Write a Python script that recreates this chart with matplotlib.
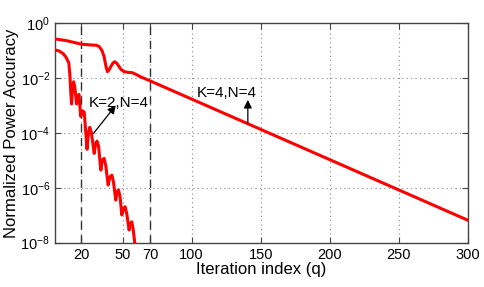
import numpy as np
import matplotlib
matplotlib.use("Agg")
import matplotlib.pyplot as plt
from matplotlib.ticker import FixedLocator, LogFormatterMathtext

# ---- data (log10 of accuracy) ----
q_k4 = [1, 9, 20, 27, 31, 33, 35, 36.6, 38, 39, 40, 41.4, 43, 44.3, 45.8, 47.4,
        49, 51, 54, 57, 60, 63, 66.7, 70, 300]
log_k4 = [-0.58, -0.64, -0.77, -0.80, -0.81, -0.86, -1.0, -1.23, -1.6, -1.77, -1.72,
          -1.59, -1.46, -1.41, -1.47, -1.59, -1.7, -1.77, -1.8, -1.81, -1.88, -1.96,
          -2.04, -2.11, -7.18]

q_k2 = [1, 4, 7, 9, 11, 11.8, 12.4, 13.0, 13.6, 14.5, 15.4, 16.6, 17.4, 18.4, 19.6,
        21.0, 22.2, 24.2, 25.2, 26.2, 27.4, 29.4, 30.4, 31.4, 32.6, 34.2, 35.2, 36.6,
        37.8, 39.5, 40.8, 42.2, 43.4, 45.0, 46.0, 47.0, 48.2, 49.4, 50.6, 51.8, 53.0,
        54.7, 55.6, 56.6, 57.6, 59.5]
log_k2 = [-0.98, -1.02, -1.12, -1.25, -1.45, -1.9, -2.5, -2.95, -2.4, -2.14, -2.35,
          -2.95, -2.7, -2.6, -3.4, -3.2, -3.25, -4.6, -4.0, -3.8, -4.0, -4.75, -4.4,
          -4.3, -4.5, -5.36, -5.0, -4.93, -5.2, -5.9, -5.6, -5.54, -5.8, -6.45, -6.15,
          -6.08, -6.35, -6.99, -6.75, -6.69, -6.95, -7.54, -7.3, -7.24, -7.5, -8.3]

x_ticks = [20, 50, 70, 100, 150, 200, 250, 300]
y_ticks = [1e0, 1e-2, 1e-4, 1e-6, 1e-8]
marker_q = [20, 70]

plt.rcParams["font.family"] = ["Liberation Sans", "DejaVu Sans"]
plt.rcParams["mathtext.fontset"] = "custom"
plt.rcParams["mathtext.rm"] = "Liberation Sans"

fig = plt.figure(figsize=(4.85, 2.87), dpi=100)
ax = fig.add_axes([0.1134, 0.1544, 0.851, 0.7655])

ax.semilogy(q_k4, 10.0 ** np.array(log_k4), color="red", lw=2.2, zorder=3)
ax.semilogy(q_k2, 10.0 ** np.array(log_k2), color="red", lw=2.2, zorder=3)

for xq in marker_q:
    ax.axvline(xq, color="#333333", lw=1.0, ls=(0, (6, 4)), zorder=2)

ax.set_xlim(1, 300)
ax.set_ylim(1e-8, 1e0)
ax.xaxis.set_major_locator(FixedLocator(x_ticks))
ax.yaxis.set_major_locator(FixedLocator(y_ticks))
ax.yaxis.set_major_formatter(LogFormatterMathtext())
ax.yaxis.set_minor_locator(FixedLocator([]))
ax.tick_params(which="both", direction="in", top=True, right=True,
               labelsize=10.5, length=4, color="#444444")
ax.grid(True, ls=(0, (1, 3)), color="#888888", lw=0.8)
for s in ax.spines.values():
    s.set_color("#444444")
    s.set_linewidth(1.0)

ax.set_xlabel("Iteration index (q)", fontsize=12, labelpad=0)
ax.set_ylabel("Normalized Power Accuracy", fontsize=12, labelpad=1)

arrow = dict(arrowstyle="-|>", color="black", lw=0.9, shrinkA=0, shrinkB=0,
             mutation_scale=12)
ax.text(47.2, 10 ** -2.91, "K=2,N=4", fontsize=11, ha="center", va="center",
        zorder=5)
ax.annotate("", xy=(45, 10 ** -3.0), xytext=(28.9, 10 ** -4.02),
            arrowprops=arrow, zorder=5)
ax.text(125.3, 10 ** -2.55, "K=4,N=4", fontsize=11, ha="center", va="center",
        zorder=5)
ax.annotate("", xy=(140.7, 10 ** -2.8), xytext=(140.7, 10 ** -3.65),
            arrowprops=arrow, zorder=5)

fig.savefig("out.png", dpi=100, facecolor="white")
